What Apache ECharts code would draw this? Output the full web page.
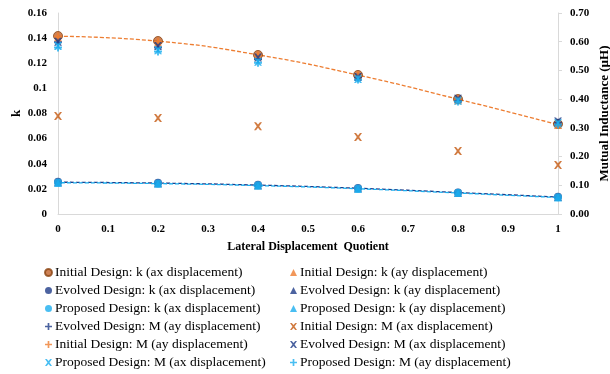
<!DOCTYPE html>
<html><head><meta charset="utf-8">
<script src="https://cdn.jsdelivr.net/npm/echarts@6/dist/echarts.min.js"></script>
<style>html,body{margin:0;padding:0;background:#fff}#c{width:610px;height:374px}</style>
</head><body><div id="c"></div>
<script>
const xVals = [0, 0.2, 0.4, 0.6, 0.8, 1];
// k series (left axis)
const initKax = [0.1417, 0.1377, 0.1266, 0.1107, 0.0915, 0.0716];
const initKay = [0.1405, 0.1365, 0.1255, 0.1098, 0.0905, 0.0708];
const evoKax = [0.0256, 0.0248, 0.0232, 0.0207, 0.0172, 0.0137];
const evoKay = [0.0252, 0.0245, 0.0229, 0.0204, 0.0170, 0.0135];
const propKax = [0.0250, 0.0243, 0.0228, 0.0203, 0.0169, 0.0134];
const propKay = [0.0246, 0.0240, 0.0225, 0.0200, 0.0167, 0.0132];
// M series (right axis, µH)
const evoMay = [0.598, 0.580, 0.540, 0.475, 0.398, 0.318];
const initMax = [0.341, 0.334, 0.306, 0.268, 0.219, 0.171];
const initMay = [0.618, 0.600, 0.553, 0.484, 0.400, 0.313];
const evoMax = [0.600, 0.585, 0.545, 0.477, 0.401, 0.322];
const propMax = [0.585, 0.570, 0.530, 0.470, 0.394, 0.316];
const propMay = [0.580, 0.566, 0.527, 0.468, 0.392, 0.312];
// trend lines (k axis)
const trendUpper = [0.1415, 0.1376, 0.1267, 0.1106, 0.0914, 0.0712];
const trendLower = [0.0253, 0.0246, 0.0230, 0.0205, 0.0171, 0.0135];
const leftTicks = [0, 0.02, 0.04, 0.06, 0.08, 0.1, 0.12, 0.14, 0.16];
const rightTicks = [0, 0.1, 0.2, 0.3, 0.4, 0.5, 0.6, 0.7];

const XP = 'path://M0,0 L2.5,0 L5,3 L7.5,0 L10,0 L6.5,5 L10,10 L7.5,10 L5,7 L2.5,10 L0,10 L3.5,5Z';
const PL = 'path://M3.8,0H6.2V3.8H10V6.2H6.2V10H3.8V6.2H0V3.8H3.8Z';
const C = {brown:'#A0522D', orange:'#ED7D31', navy:'#1F3C88', light:'#1CAEEF', cross:'#C55A11'};
const F = 'Liberation Serif';

function pts(arr){ return xVals.map((x,i)=>[x, arr[i]]); }
function sc(name, arr, sym, color, size, yIdx, border){
  return {name, type:'scatter', yAxisIndex:yIdx, data:pts(arr), symbol:sym, symbolSize:size,
    itemStyle:{color, borderColor: border||color, borderWidth: border?1:0}, z:5};
}
const series = [
  {type:'line', data:pts(trendUpper), smooth:true, symbol:'none', silent:true,
   lineStyle:{color:C.orange, type:[4,2], width:1.3}, z:3},
  {type:'line', data:pts(trendLower), smooth:true, symbol:'none', silent:true,
   lineStyle:{color:C.navy, type:[4,2], width:1.3}, z:3},
  {type:'line', data:pts(trendLower.map(v=>v-0.0004)), smooth:true, symbol:'none', silent:true,
   lineStyle:{color:C.light, type:[4,2], width:1.3, dashOffset:3}, z:3},
  sc('Initial Design: k (ax displacement)', initKax, 'circle', '#C0622A', 9, 0, '#8B4513'),
  sc('Initial Design: k (ay displacement)', initKay, 'triangle', C.orange, 8, 0),
  sc('Evolved Design: k (ax displacement)', evoKax, 'circle', C.navy, 8, 0),
  sc('Evolved Design: k (ay displacement)', evoKay, 'triangle', C.navy, 8, 0),
  sc('Proposed Design: k (ax displacement)', propKax, 'circle', C.light, 8, 0),
  sc('Proposed Design: k (ay displacement)', propKay, 'triangle', C.light, 8, 0),
  sc('Evolved Design: M (ay displacement)', evoMay, PL, C.navy, 8, 1),
  sc('Initial Design: M (ax displacement)', initMax, XP, C.cross, 8, 1),
  sc('Initial Design: M (ay displacement)', initMay, PL, C.orange, 8, 1),
  sc('Evolved Design: M (ax displacement)', evoMax, XP, C.navy, 8, 1),
  sc('Proposed Design: M (ax displacement)', propMax, XP, C.light, 8, 1),
  sc('Proposed Design: M (ay displacement)', propMay, PL, C.light, 8, 1)
];
const names = series.filter(s=>s.name).map(s=>s.name);
const leftNames = names.filter((n,i)=>i%2===0);
const rightNames = names.filter((n,i)=>i%2===1);
const legendBase = {orient:'vertical', top:265, itemWidth:7, itemHeight:7, itemGap:3,
  textStyle:{fontFamily:F, fontSize:13.5, color:'#000', lineHeight:15, padding:[0,0,0,-2]}, padding:0};

const chart = echarts.init(document.getElementById('c'));
chart.setOption({
  animation:false,
  textStyle:{fontFamily:F},
  grid:{left:58, right:52, top:13, bottom:160, containLabel:false, outerBoundsMode:'none'},
  legend:[Object.assign({left:44, data:leftNames}, legendBase),
          Object.assign({left:290, data:rightNames}, legendBase)],
  xAxis:{type:'value', min:0, max:1, interval:0.1,
    name:'Lateral Displacement  Quotient', nameLocation:'middle', nameGap:27, nameMoveOverlap:false,
    nameTextStyle:{fontFamily:F, fontWeight:'bold', fontSize:12, color:'#000'},
    axisLine:{lineStyle:{color:'#d9d9d9'}}, axisTick:{show:false}, splitLine:{show:false},
    axisLabel:{fontFamily:F, fontWeight:'bold', fontSize:11, color:'#000', margin:10,
      formatter:v=>String(+v.toFixed(1))}},
  yAxis:[
    {type:'value', min:0, max:0.16, interval:0.02, position:'left',
     name:'k', nameLocation:'middle', nameGap:35, nameRotate:90, nameMoveOverlap:false,
     nameTextStyle:{fontFamily:F, fontWeight:'bold', fontSize:13, color:'#000'},
     axisLine:{show:true, lineStyle:{color:'#d9d9d9'}}, axisTick:{show:false}, splitLine:{show:false},
     axisLabel:{fontFamily:F, fontWeight:'bold', fontSize:11, color:'#000', margin:11,
       formatter:v=>String(+v.toFixed(2))}},
    {type:'value', min:0, max:0.7, interval:0.1, position:'right',
     name:'Mutual Inductance (µH)', nameLocation:'middle', nameGap:40, nameRotate:90, nameMoveOverlap:false,
     nameTextStyle:{fontFamily:F, fontWeight:'bold', fontSize:13, color:'#000'},
     axisLine:{show:true, lineStyle:{color:'#d9d9d9'}},
     axisTick:{show:true, length:4, lineStyle:{color:'#d9d9d9'}}, splitLine:{show:false},
     axisLabel:{fontFamily:F, fontWeight:'bold', fontSize:11, color:'#000', margin:12,
       formatter:v=>v.toFixed(2)}}
  ],
  series
});
</script></body></html>
